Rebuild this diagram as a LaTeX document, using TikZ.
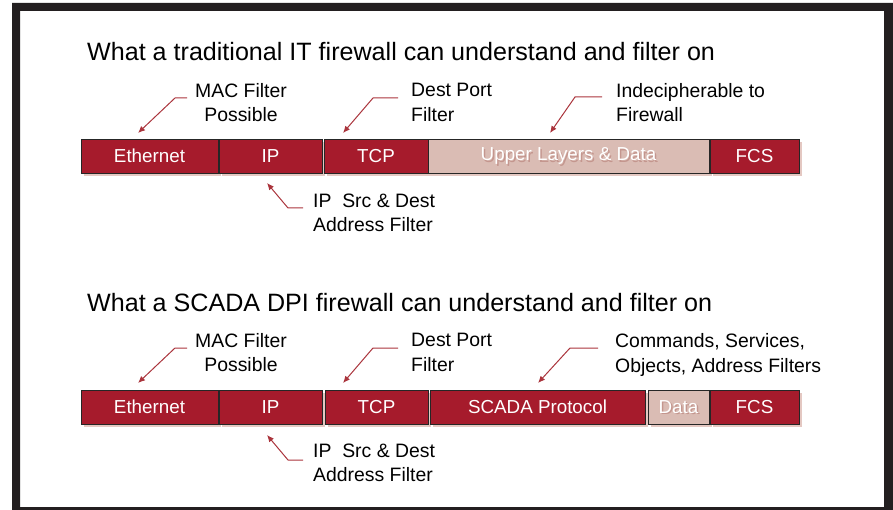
\documentclass[tikz,border=0pt]{standalone}
\usepackage{fontspec}
\setmainfont{Liberation Sans}
\usetikzlibrary{arrows.meta,shadows}

\definecolor{framegray}{RGB}{35,31,32}
\definecolor{segred}{RGB}{166,27,44}
\definecolor{segpink}{RGB}{218,188,180}
\definecolor{segshadow}{RGB}{228,200,194}
\definecolor{ghosttext}{RGB}{196,150,142}
\definecolor{calloutred}{RGB}{170,52,60}

\tikzset{
  seg/.style={draw=black!85, line width=0.8pt, fill=segred, text=white,
    minimum height=34, inner sep=0pt, font=\fontsize{18.8}{21}\selectfont,
    drop shadow={shadow xshift=3pt, shadow yshift=-3pt, fill=segshadow, opacity=1}},
  paleseg/.style={seg, fill=segpink,
    path picture={\node[text=ghosttext, font=\fontsize{18.8}{21}\selectfont]
      at ([xshift=1.5pt,yshift=-1.5pt]path picture bounding box.center) {#1};}},
  note/.style={font=\fontsize{19.4}{24.5}\selectfont, inner sep=0pt, anchor=west},
  heading/.style={font=\fontsize{25.1}{28}\selectfont, inner sep=0pt, anchor=base west},
  callout/.style={draw=calloutred, line width=1pt, ->, >={Latex[length=7pt,width=6pt]}}
}

\begin{document}
\begin{tikzpicture}[x=1pt, y=-1pt]
  \useasboundingbox (0,0) rectangle (893,510);
  % frame
  \fill[framegray, even odd rule] (12,3) rectangle (893,510) (20,11) rectangle (884,507);

  % traditional IT firewall
  \node[heading] (title1) at (87,61) {What a traditional IT firewall can understand and filter on};

  \node[seg, minimum width=137] (eth1) at (149.5,156) {Ethernet};
  \node[seg, minimum width=103] (ip1) at (270.5,156) {IP};
  \node[seg, minimum width=104] (tcp1) at (376,156) {TCP};
  \node[paleseg={Upper Layers \& Data}, minimum width=281] (upper1) at (568.5,156) {Upper Layers \& Data};
  \node[seg, minimum width=89] (fcs1) at (754.5,156) {FCS};

  \node[note, align=center] (mac1) at (195,102.5) {MAC Filter\\Possible};
  \node[note, align=left] (port1) at (411,102.5) {Dest Port\\Filter};
  \node[note, align=left] (opaque1) at (616,102.5) {Indecipherable to\\Firewall};
  \node[note, align=left] (ipsrc1) at (313,213) {IP\ \ Src \& Dest\\Address Filter};

  \coordinate (mac1tip) at (138,133);
  \coordinate (port1tip) at (343,133);
  \coordinate (opaque1tip) at (550,133);
  \coordinate (ipsrc1tip) at (267,183);

  \draw[callout] ([xshift=-8pt,yshift=4.5pt]mac1.west) -- ++(-12,0) -- (mac1tip);
  \draw[callout] ([xshift=-13pt,yshift=4.5pt]port1.west) -- ++(-25,0) -- (port1tip);
  \draw[callout] ([xshift=-14pt,yshift=5.5pt]opaque1.west) -- ++(-27,0) -- (opaque1tip);
  \draw[callout] ([xshift=-10pt,yshift=5pt]ipsrc1.west) -- ++(-15,0) -- (ipsrc1tip);

  % SCADA DPI firewall
  \node[heading] (title2) at (87,311) {What a SCADA DPI firewall can understand and filter on};

  \node[seg, minimum width=137] (eth2) at (149.5,407) {Ethernet};
  \node[seg, minimum width=103] (ip2) at (270.5,407) {IP};
  \node[seg, minimum width=103] (tcp2) at (376.5,407) {TCP};
  \node[seg, minimum width=215] (scada2) at (537.5,407) {SCADA Protocol};
  \node[paleseg={Data}, minimum width=61] (data2) at (678.5,407) {Data};
  \node[seg, minimum width=89] (fcs2) at (754.5,407) {FCS};

  \node[note, align=center] (mac2) at (195,352.5) {MAC Filter\\Possible};
  \node[note, align=left] (port2) at (411,352.5) {Dest Port\\Filter};
  \node[note, align=left] (dpi2) at (615,355) {Commands, Services,\\Objects, Address Filters};
  \node[note, align=left] (ipsrc2) at (313,463) {IP\ \ Src \& Dest\\Address Filter};

  \coordinate (mac2tip) at (138,383);
  \coordinate (port2tip) at (343,383);
  \coordinate (dpi2tip) at (538,383);
  \coordinate (ipsrc2tip) at (267,435);

  \draw[callout] ([xshift=-8pt,yshift=4.5pt]mac2.west) -- ++(-12,0) -- (mac2tip);
  \draw[callout] ([xshift=-13pt,yshift=4.5pt]port2.west) -- ++(-25,0) -- (port2tip);
  \draw[callout] ([xshift=-17pt,yshift=7pt]dpi2.west) -- ++(-28,0) -- (dpi2tip);
  \draw[callout] ([xshift=-10pt,yshift=3pt]ipsrc2.west) -- ++(-15,0) -- (ipsrc2tip);
\end{tikzpicture}
\end{document}
